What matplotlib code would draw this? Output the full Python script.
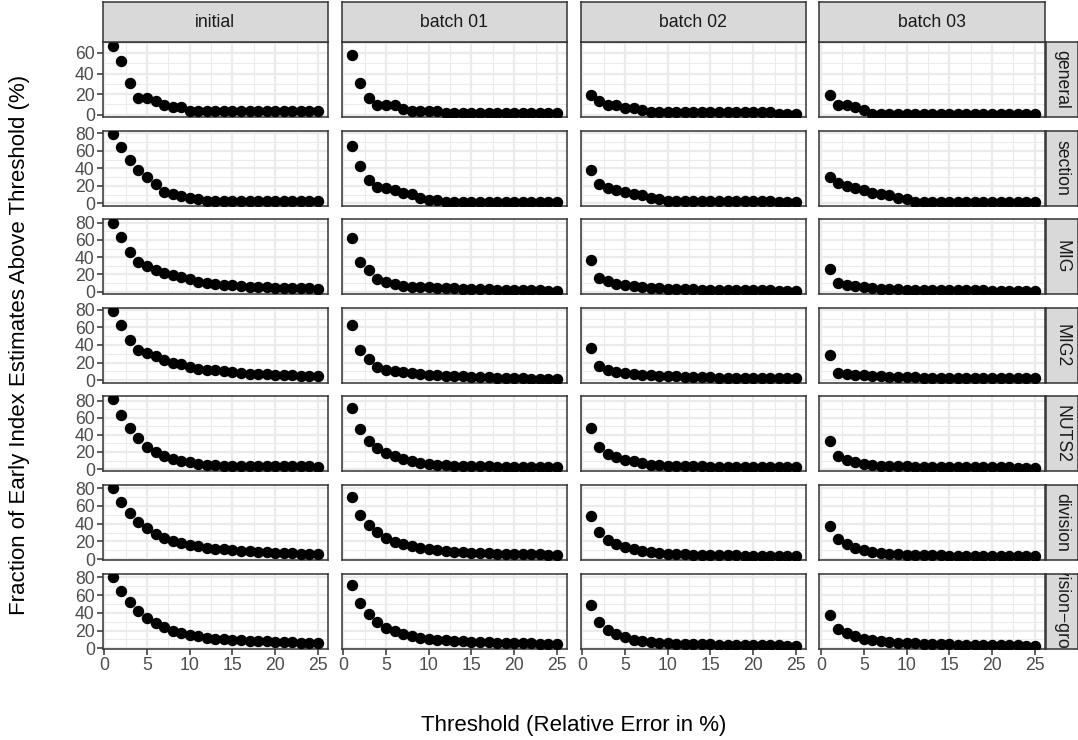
import matplotlib.pyplot as plt
from matplotlib.ticker import MultipleLocator

plt.rcParams['font.family'] = ['Liberation Sans', 'DejaVu Sans']

# Data: fraction of early index estimates above threshold, per level and batch
thresholds = list(range(1, 26))
batches = ['initial', 'batch 01', 'batch 02', 'batch 03']
levels = ['general', 'section', 'MIG', 'MIG2', 'NUTS2', 'division', 'division\u2212group']

general = [
    [67, 52.5, 30.6, 16.5, 16.5, 12.9, 9.7, 7.4, 7.4, 3.2, 3.2, 3.2, 3.2, 3.2, 3.2, 3.2, 3.2, 3.2, 3.2, 3.2, 3.2, 3.2, 3.2, 3.2, 3.2],
    [58, 31, 16.5, 9.7, 9.7, 9.7, 5.1, 3.2, 3.2, 3.2, 3.2, 1.6, 1.6, 1.6, 1.6, 1.6, 1.6, 1.6, 1.6, 1.6, 1.6, 1.6, 1.6, 1.6, 1.6],
    [19, 12.9, 9.7, 9.7, 6.8, 6.8, 4.5, 2.2, 2.2, 2.2, 2.2, 2.2, 2.2, 2.2, 2.2, 2.2, 2.2, 2.2, 2.2, 2.2, 2.2, 2.2, 0.8, 0.8, 0.8],
    [19, 9.7, 9.7, 7.4, 5, 1, 1, 1, 1, 1, 1, 1, 1, 1, 1, 1, 1, 1, 1, 1, 1, 1, 1, 1, 1],
]
section = [
    [79, 64.5, 49, 38.3, 30.5, 22, 13.5, 11, 8.5, 5.8, 5, 2.5, 2.5, 2.5, 2.5, 2.5, 2.5, 2.5, 2.5, 2.5, 2.5, 2.5, 2.5, 2.5, 2.5],
    [66, 42.5, 26.5, 19, 18, 15, 12.3, 10.5, 6.5, 3.8, 3.8, 1.5, 1.5, 1.5, 1.5, 1.5, 1.5, 1.5, 1.5, 1.5, 1.5, 1.5, 1.5, 1.5, 1.5],
    [37.5, 22, 18, 15.4, 13.5, 11, 9.3, 6.5, 4.6, 2.6, 2.2, 2.2, 2.2, 2.2, 2.2, 2.2, 2.2, 2.2, 2.2, 2.2, 2.2, 2.2, 1.2, 1.2, 1.2],
    [29.7, 22.7, 20, 17.4, 15.4, 12.3, 10.5, 10, 6.5, 4.6, 1.5, 1.5, 1.5, 1.5, 1.5, 1.5, 1.5, 1.5, 1.5, 1.5, 1.5, 1.5, 1.5, 1.5, 1.5],
]
mig = [
    [80, 64, 45.7, 34.8, 29.4, 25.5, 22.3, 19.6, 17.5, 14.5, 11.7, 10.5, 9.4, 7.8, 7.5, 6.5, 6, 5.5, 5, 4.8, 4.5, 4.2, 4, 3.8, 3.2],
    [62.4, 35, 25, 14.5, 11.7, 8.8, 7, 6, 5.5, 5, 4.6, 4.3, 4, 3.7, 3.4, 3.1, 2.8, 2.6, 2.4, 2.2, 2, 1.8, 1.6, 1.4, 1.2],
    [36.6, 16.3, 12.5, 9.4, 7.8, 6.5, 5.2, 4.5, 3.8, 3.4, 3.1, 2.9, 2.7, 2.5, 2.3, 2.2, 2, 1.9, 1.8, 1.7, 1.6, 1.5, 1.4, 1.2, 1],
    [26, 10.5, 7.8, 6.5, 6, 4.5, 3.3, 2.9, 2.7, 2.5, 2.3, 2.2, 2.1, 2, 1.9, 1.8, 1.7, 1.6, 1.5, 1.4, 1.3, 1.2, 1.1, 1, 1],
]
mig2 = [
    [78.5, 62.3, 46, 34.8, 31, 27.5, 22.7, 20, 18, 15, 13, 12, 11, 10, 9, 8.3, 7.5, 7.2, 6.8, 6.4, 6, 5.6, 5.2, 4.9, 4.5],
    [62.3, 34.8, 23.8, 15, 12, 10.5, 9, 7.8, 7, 6.3, 5.7, 5.2, 4.7, 4.3, 3.9, 3.5, 3.2, 2.9, 2.6, 2.3, 2, 1.8, 1.5, 1.2, 1],
    [36, 16.2, 12, 9.4, 8, 7, 6.3, 5.6, 5, 4.6, 4.2, 3.9, 3.6, 3.4, 3.2, 3, 2.8, 2.7, 2.6, 2.5, 2.4, 2.3, 2.2, 2.1, 2],
    [28.3, 8.7, 7.2, 6.3, 5.5, 4.9, 4.4, 4, 3.7, 3.4, 3.2, 3, 2.9, 2.8, 2.7, 2.6, 2.5, 2.4, 2.3, 2.3, 2.2, 2.2, 2.1, 2.1, 2],
]
nuts2 = [
    [81.6, 63.9, 48.5, 36.2, 25.6, 20.5, 15.7, 11.8, 9.8, 7.8, 5.9, 5, 4.2, 4, 3.9, 3.8, 3.7, 3.6, 3.5, 3.4, 3.3, 3.2, 3.1, 3, 2.8],
    [71.7, 47.3, 32.3, 24.4, 18.5, 15, 11.8, 9, 7.4, 6, 5, 4.2, 3.9, 3.6, 3.4, 3.2, 3, 2.8, 2.6, 2.5, 2.4, 2.3, 2.2, 2, 1.9],
    [48, 26.4, 17.7, 13.7, 11, 9, 7.4, 5, 4.2, 3.9, 3.6, 3.4, 3.2, 3, 2.9, 2.8, 2.7, 2.6, 2.5, 2.4, 2.3, 2.2, 2.1, 2, 1.9],
    [32.7, 15.7, 11, 8, 6, 5, 3.9, 3.5, 3.2, 3, 2.8, 2.7, 2.6, 2.5, 2.4, 2.3, 2.2, 2.1, 2, 2, 1.9, 1.9, 1.8, 1.8, 1.7],
]
division = [
    [80, 64, 52, 41.7, 35, 28.7, 24.2, 20.4, 18.2, 16.4, 14.5, 13, 11.9, 11.2, 10.4, 9.7, 9.3, 8.6, 8.2, 7.4, 7.1, 6.7, 6.4, 6.4, 5.6],
    [70.3, 50.2, 38, 30.5, 24.2, 19.3, 16.7, 14.5, 12.6, 11.2, 10, 9.3, 8.6, 8.2, 7.4, 7, 6.7, 6.4, 6.2, 6, 5.8, 5.6, 5.5, 5.3, 5.2],
    [48.4, 30.5, 21.2, 16.7, 13.8, 11.2, 9.3, 8.2, 7, 6.4, 6, 5.6, 5.3, 5, 4.8, 4.6, 4.4, 4.2, 4, 3.9, 3.8, 3.6, 3.5, 3.4, 3.3],
    [37.2, 23, 16.7, 12.6, 10, 8.2, 7, 6.4, 5.6, 5.2, 4.9, 4.7, 4.5, 4.3, 4.1, 4, 3.9, 3.8, 3.7, 3.6, 3.5, 3.4, 3.4, 3.3, 3.3],
]
division_group = [
    [80, 64.8, 52.6, 42, 34.3, 28.6, 24, 19.9, 17.1, 15.2, 13.4, 11.4, 10.7, 10, 9.3, 8.9, 8.6, 8.2, 7.8, 7.4, 7.1, 6.7, 6.3, 6.3, 5.7],
    [71.3, 51.4, 38.9, 29.7, 22.9, 19, 16, 13.4, 11.4, 10.3, 9.3, 8.9, 8.2, 7.8, 7.4, 7, 6.7, 6.4, 6.1, 5.9, 5.7, 5.5, 5.3, 5.1, 5],
    [48.4, 29.7, 21, 16, 12.2, 9.6, 8, 6.7, 6, 5.7, 5.3, 5, 4.7, 4.5, 4.3, 4.1, 3.9, 3.8, 3.6, 3.5, 3.4, 3.3, 3.2, 3.1, 3],
    [37.4, 21.7, 17.1, 13.4, 10.7, 8.9, 7.8, 7.1, 6.3, 5.8, 5.4, 5.1, 4.8, 4.6, 4.4, 4.2, 4, 3.8, 3.7, 3.5, 3.4, 3.3, 3.2, 3.1, 3],
]
rows = [general, section, mig, mig2, nuts2, division, division_group]

# Figure layout in pixels
W, H = 1078, 740
col_left = [102.5, 341.5, 580.5, 819.3]
panel_w = 225.7
row_top = [42.3, 130.7, 219.3, 307.7, 396, 484.7, 574]
panel_h = 75
strip_top, strip_h = 2, 40.3
rstrip_left, rstrip_w = 1046, 31.5

border = '#333333'
grid_col = '#EBEBEB'
tick_col = '#4D4D4D'
fs_tick = 12.7


def box(x0, y0, w, h):
    """Converts pixel box (top-left origin) to figure fraction."""
    return [x0 / W, 1 - (y0 + h) / H, w / W, h / H]


def make_strip(fig, rect, label, rotation=0):
    ax = fig.add_axes(rect)
    ax.set_facecolor('#D9D9D9')
    ax.set_xticks([])
    ax.set_yticks([])
    for s in ax.spines.values():
        s.set_color(border)
        s.set_linewidth(1.1)
    ax.text(0.5, 0.5, label, ha='center', va='center', rotation=rotation,
            fontsize=fs_tick, color='#1A1A1A', transform=ax.transAxes, clip_on=True)
    return ax


fig = plt.figure(figsize=(W / 100, H / 100), dpi=100)

for r, data in enumerate(rows):
    lo = min(min(v) for v in data)
    hi = max(max(v) for v in data)
    pad = 0.05 * (hi - lo)
    for c in range(4):
        ax = fig.add_axes(box(col_left[c], row_top[r], panel_w, panel_h))
        ax.set_facecolor('white')
        ax.plot(thresholds, data[c], 'o', color='black', markersize=7.2, zorder=3)
        ax.set_xlim(1 - 1.2, 25 + 1.2)
        ax.set_ylim(lo - pad, hi + pad)
        ax.xaxis.set_major_locator(MultipleLocator(5))
        ax.xaxis.set_minor_locator(MultipleLocator(2.5))
        ax.yaxis.set_major_locator(MultipleLocator(20))
        ax.yaxis.set_minor_locator(MultipleLocator(10))
        ax.grid(which='major', color=grid_col, linewidth=1.6, zorder=0)
        ax.grid(which='minor', color=grid_col, linewidth=0.8, zorder=0)
        ax.set_axisbelow(True)
        for s in ax.spines.values():
            s.set_color(border)
            s.set_linewidth(1.1)
        ax.tick_params(which='minor', length=0)
        ax.tick_params(which='major', length=4, width=1.1, color=border,
                       labelsize=fs_tick, labelcolor=tick_col, pad=1.5)
        if c > 0:
            ax.tick_params(axis='y', labelleft=False, length=0)
        if r < len(rows) - 1:
            ax.tick_params(axis='x', labelbottom=False, length=0)

# Column strips
for c, name in enumerate(batches):
    make_strip(fig, box(col_left[c], strip_top, panel_w, strip_h), name)

# Row strips
for r, name in enumerate(levels):
    make_strip(fig, box(rstrip_left, row_top[r], rstrip_w, panel_h), name, rotation=-90)

fig.text((col_left[0] + col_left[3] + panel_w) / 2 / W, 1 - 726 / H,
         'Threshold (Relative Error in %)', ha='center', va='center', fontsize=16, color='black')
fig.text(20 / W, 1 - 345 / H, 'Fraction of Early Index Estimates Above Threshold (%)',
         ha='center', va='center', rotation=90, fontsize=16, color='black')

fig.savefig('out.png', dpi=100)
